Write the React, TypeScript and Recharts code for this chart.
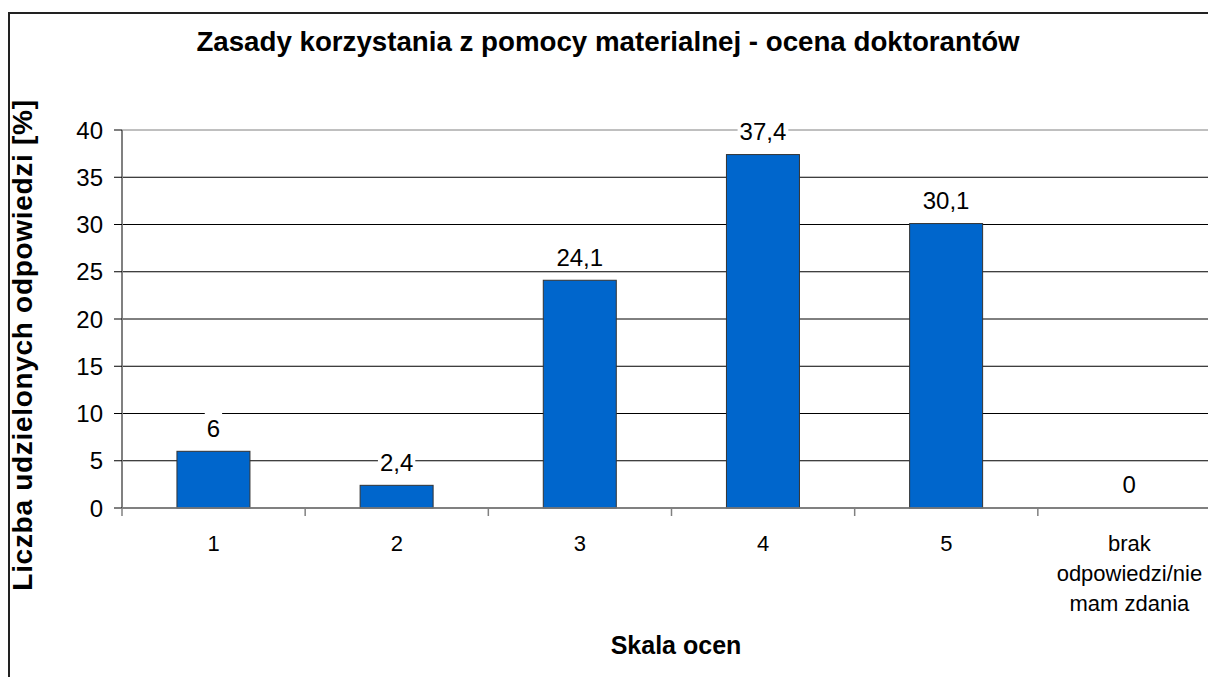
import { Bar, BarChart, CartesianGrid, LabelList, XAxis, YAxis } from "recharts"

const categories = ["1", "2", "3", "4", "5", "brak\nodpowiedzi/nie\nmam zdania"]
const values = [6, 2.4, 24.1, 37.4, 30.1, 0]
const yTicks = [0, 5, 10, 15, 20, 25, 30, 35, 40]

const data = categories.map((name, i) => ({ name, value: values[i] }))

const FONT = '"Liberation Sans", Arial, sans-serif'
const CHART_W = 1240
const CHART_H = 700
const MARGIN = { top: 122, right: 27, bottom: 160, left: 34 }
const Y_AXIS_W = 80
const BAND = (CHART_W - MARGIN.left - MARGIN.right - Y_AXIS_W) / categories.length

const fmt = (v: number) => String(v).replace(".", ",")

function CategoryTick(props: any) {
  const { x, y, payload } = props
  const lines = String(payload.value).split("\n")
  const left = x - BAND / 2
  return (
    <g>
      <line x1={left} x2={left} y1={y} y2={y + 8} stroke="#808080" strokeWidth={1.5} />
      <text x={x} y={y + 43} textAnchor="middle" fontSize={22} fill="#000" fontFamily={FONT}>
        {lines.map((l, i) => (
          <tspan key={i} x={x} dy={i === 0 ? 0 : 30}>
            {l}
          </tspan>
        ))}
      </text>
    </g>
  )
}

function ValueLabel(props: any) {
  const { x, y, width, value } = props
  const text = fmt(value)
  const cx = x + width / 2
  const base = y - 14.5
  const w = text.split("").reduce((s, c) => s + (c === "," ? 0.278 : 0.556), 0) * 24
  return (
    <g>
      <rect x={cx - w / 2 - 2} y={base - 25} width={w + 4} height={30} fill="#fff" />
      <text x={cx} y={base} textAnchor="middle" fontSize={24} fill="#000" fontFamily={FONT}>
        {text}
      </text>
    </g>
  )
}

// zero-valued bars get a 1px min size so the label is kept, but no rectangle is drawn
function BarShape(props: any) {
  const { x, y, width, height, fill, stroke } = props
  if (!(height > 1.5)) return <g />
  return <rect x={x} y={y} width={width} height={height} fill={fill} stroke={stroke} strokeWidth={1} />
}

function GridLine(props: any) {
  const { x1, x2, y1, y2 } = props
  return <line x1={x1} x2={x2} y1={y1} y2={y2} stroke={y1 < MARGIN.top + 4 ? "#808080" : "#000"} strokeWidth={1} />
}

export default function App() {
  return (
    <div style={{ position: "relative", width: 1208, height: 669, overflow: "hidden", background: "#fff", fontFamily: FONT }}>
      <div
        style={{
          position: "absolute",
          left: 0,
          top: 4,
          width: 1400,
          height: 900,
          borderLeft: "2px solid #222",
          borderTop: "2px solid #222",
        }}
      />
      <div
        style={{
          position: "absolute",
          left: 600,
          top: 20,
          transform: "translateX(-50%)",
          fontSize: 27.7,
          lineHeight: "27.7px",
          fontWeight: "bold",
          whiteSpace: "nowrap",
        }}
      >
        Zasady korzystania z pomocy materialnej - ocena doktorantów
      </div>
      <div
        style={{
          position: "absolute",
          left: 15,
          top: 337,
          transform: "translate(-50%, -50%) rotate(-90deg)",
          fontSize: 28,
          lineHeight: "28px",
          letterSpacing: 0.7,
          fontWeight: "bold",
          whiteSpace: "nowrap",
        }}
      >
        Liczba udzielonych odpowiedzi [%]
      </div>
      <div
        style={{
          position: "absolute",
          left: 668,
          top: 625,
          transform: "translateX(-50%)",
          fontSize: 25,
          lineHeight: "25px",
          fontWeight: "bold",
          whiteSpace: "nowrap",
        }}
      >
        Skala ocen
      </div>
      <div style={{ position: "absolute", left: 0, top: 0 }}>
        <BarChart width={CHART_W} height={CHART_H} data={data} margin={MARGIN} barCategoryGap="30%">
          <CartesianGrid vertical={false} horizontal={GridLine} />
          <XAxis
            dataKey="name"
            height={40}
            interval={0}
            tickLine={false}
            tickSize={0}
            tickMargin={0}
            axisLine={{ stroke: "#808080", strokeWidth: 1.5 }}
            tick={<CategoryTick />}
          />
          <YAxis
            width={Y_AXIS_W}
            domain={[0, 40]}
            ticks={yTicks}
            interval={0}
            tickSize={8}
            tickMargin={11}
            axisLine={{ stroke: "#808080", strokeWidth: 2 }}
            tickLine={{ stroke: "#000" }}
            tick={{ fill: "#000", fontSize: 24, fontFamily: FONT }}
          />
          <Bar
            dataKey="value"
            fill="#0066CC"
            stroke="#333"
            minPointSize={1}
            shape={<BarShape />}
            isAnimationActive={false}
          >
            <LabelList dataKey="value" content={<ValueLabel />} />
          </Bar>
        </BarChart>
      </div>
    </div>
  )
}
